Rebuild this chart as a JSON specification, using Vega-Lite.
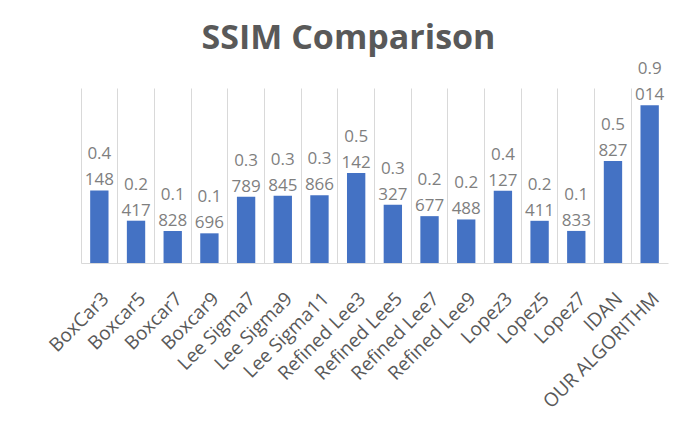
{
  "$schema": "https://vega.github.io/schema/vega-lite/v6.json",
  "autosize": "none",
  "width": 587,
  "height": 175,
  "padding": {"left": 81, "top": 88, "right": 18, "bottom": 171},
  "background": "white",
  "title": {
    "text": "SSIM Comparison",
    "font": "Open Sans",
    "fontSize": 34,
    "fontWeight": "bold",
    "color": "#595959",
    "anchor": "middle",
    "frame": "group",
    "baseline": "alphabetic",
    "offset": 12,
    "dy": 35,
    "dx": -26
  },
  "data": {
    "values": [
      {"method": "BoxCar3", "ssim": 0.4148},
      {"method": "Boxcar5", "ssim": 0.2417},
      {"method": "Boxcar7", "ssim": 0.1828},
      {"method": "Boxcar9", "ssim": 0.1696},
      {"method": "Lee Sigma7", "ssim": 0.3789},
      {"method": "Lee Sigma9", "ssim": 0.3845},
      {"method": "Lee Sigma11", "ssim": 0.3866},
      {"method": "Refined Lee3", "ssim": 0.5142},
      {"method": "Refined Lee5", "ssim": 0.3327},
      {"method": "Refined Lee7", "ssim": 0.2677},
      {"method": "Refined Lee9", "ssim": 0.2488},
      {"method": "Lopez3", "ssim": 0.4127},
      {"method": "Lopez5", "ssim": 0.2411},
      {"method": "Lopez7", "ssim": 0.1833},
      {"method": "IDAN", "ssim": 0.5827},
      {"method": "OUR ALGORITHM", "ssim": 0.9014}
    ]
  },
  "transform": [
    {"calculate": "format(datum.ssim, '.4f')", "as": "lbl"},
    {"calculate": "substring(datum.lbl, 0, 3)", "as": "lbl1"},
    {"calculate": "substring(datum.lbl, 3)", "as": "lbl2"}
  ],
  "encoding": {
    "x": {
      "field": "method",
      "type": "nominal",
      "sort": null,
      "scale": {"paddingInner": 0, "paddingOuter": 0},
      "axis": {
        "title": null,
        "labelAngle": -45,
        "labelAlign": "right",
        "labelBaseline": "top",
        "labelPadding": 26,
        "labelFont": "Open Sans",
        "labelFontSize": 19,
        "labelColor": "#595959",
        "ticks": false,
        "grid": true,
        "bandPosition": 0,
        "gridColor": "#d9d9d9",
        "gridWidth": 1,
        "domainColor": "#d9d9d9",
        "domainWidth": 1
      }
    },
    "y": {
      "field": "ssim",
      "type": "quantitative",
      "scale": {"domain": [0, 1]},
      "axis": null
    }
  },
  "layer": [
    {"mark": {"type": "bar", "color": "#4472C4", "width": {"band": 0.5}}},
    {"mark": {"type": "text", "font": "Open Sans", "fontSize": 17, "color": "#7f7f7f", "baseline": "alphabetic", "dy": -31}, "encoding": {"text": {"field": "lbl1"}}},
    {"mark": {"type": "text", "font": "Open Sans", "fontSize": 17, "color": "#7f7f7f", "baseline": "alphabetic", "dy": -5}, "encoding": {"text": {"field": "lbl2"}}}
  ],
  "config": {"view": {"stroke": null}}
}
